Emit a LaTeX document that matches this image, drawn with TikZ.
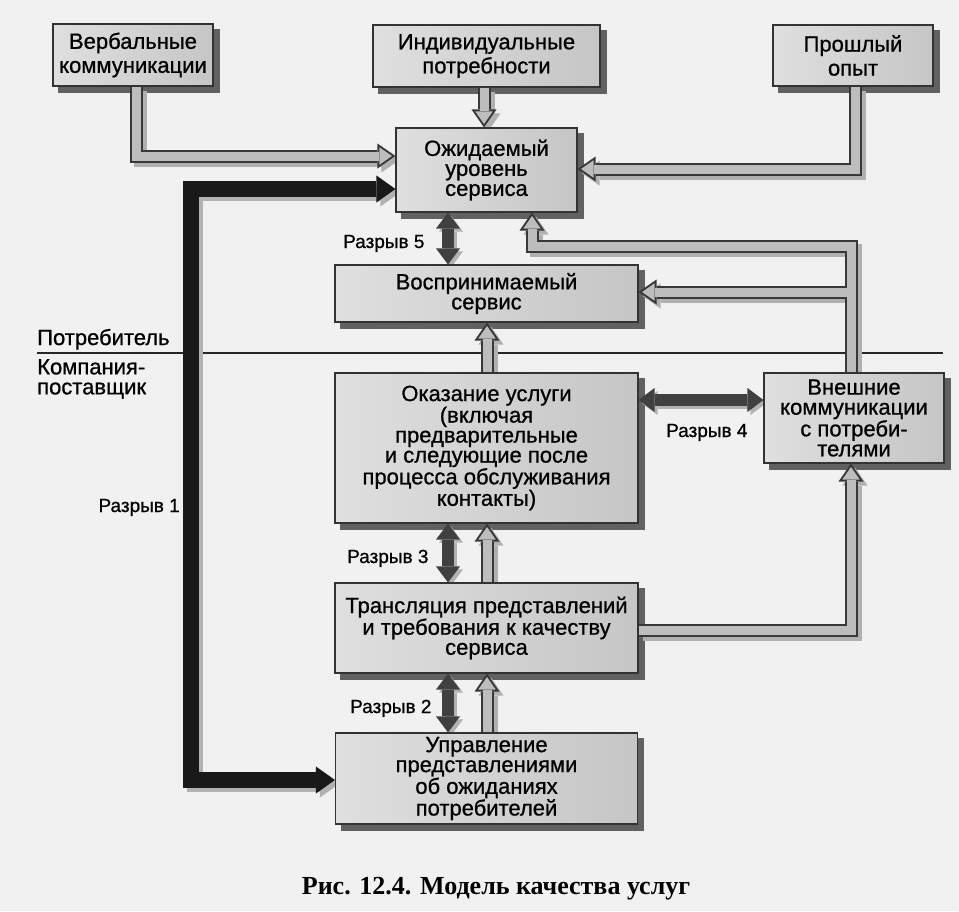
\documentclass[tikz,border=0pt]{standalone}
\usepackage{fontspec}
\setmainfont{Liberation Sans}
\newfontfamily\diafont{Liberation Sans}[FakeBold=0.8]
\newfontfamily\capfont{Liberation Serif}
\usetikzlibrary{arrows.meta,calc}
\pgfdeclarelayer{back}
\pgfdeclarelayer{ashadow}
\pgfdeclarelayer{aout}
\pgfdeclarelayer{ain}
\pgfsetlayers{back,ashadow,aout,ain,main}
\newcommand\myharrow[1]{%
  \begin{pgfonlayer}{ashadow}\draw[hshadow] #1;\end{pgfonlayer}%
  \begin{pgfonlayer}{aout}\draw[hout] #1;\end{pgfonlayer}%
  \begin{pgfonlayer}{ain}\draw[hin] #1;\end{pgfonlayer}}
\newcommand\mygap[2]{%
  \begin{pgfonlayer}{ashadow}\draw[#1shadow] #2;\end{pgfonlayer}%
  \begin{pgfonlayer}{ain}\draw[#1] #2;\end{pgfonlayer}}
\begin{document}
\begin{tikzpicture}[x=1pt,y=-1pt,
  box/.style={draw=black!80, line width=1.1pt, left color=gray!25, right color=gray!45,
    align=center, inner sep=0pt, text=black, font=\diafont\fontsize{22}{20}\selectfont},
  topbox/.style={box, font=\diafont\fontsize{22}{24}\selectfont},
  lbl/.style={inner sep=0pt, font=\diafont\fontsize{19}{19}\selectfont},
  side/.style={inner sep=0pt, font=\diafont\fontsize{22}{20}\selectfont, align=left},
  htip/.style={-{Triangle[length=18pt,width=25pt,line width=0pt]}},
  hshadow/.style={draw=gray!62, line width=13pt, line join=miter, htip,
    transform canvas={shift={(4pt,-4pt)}}},
  hout/.style={draw=black!78, line width=13pt, line join=miter, htip},
  hin/.style={draw=gray!52, line width=9pt, line join=miter, shorten >=3.5pt,
    -{Triangle[length=12.5pt,width=17.4pt,line width=0pt]}},
  gap/.style={draw=black!75, line width=12pt,
    {Triangle[length=16pt,width=24pt,line width=0pt]}-{Triangle[length=16pt,width=24pt,line width=0pt]}},
  gapshadow/.style={gap, draw=gray!60, transform canvas={shift={(3pt,-3pt)}}},
  big/.style={draw=black!90, line width=16pt, line join=miter,
    {Triangle[length=19pt,width=27pt,line width=0pt]}-{Triangle[length=19pt,width=27pt,line width=0pt]}},
  bigshadow/.style={big, draw=gray!60, transform canvas={shift={(4pt,-4pt)}}},
]
\useasboundingbox (0,0) rectangle (959,911);
\begin{pgfonlayer}{back}
  \fill[gray!11] (0,0) rectangle (959,911);
\end{pgfonlayer}

% boxes
\node[topbox, minimum width=160pt, minimum height=62pt] (verb) at (133,55) {Вербальные\\коммуникации};
\node[topbox, minimum width=227pt, minimum height=62pt] (indiv) at (486.5,56) {Индивидуальные\\потребности};
\node[topbox, minimum width=160pt, minimum height=61pt] (past) at (853,55.5) {Прошлый\\опыт};
\node[box, minimum width=181pt, minimum height=84pt] (expect) at (486.5,170) {Ожидаемый\\уровень\\сервиса};
\node[box, minimum width=303pt, minimum height=57pt] (perc) at (486.5,293.5) {Воспринимаемый\\сервис};
\node[box, minimum width=303pt, minimum height=150pt] (deliv) at (486.5,448) {Оказание услуги\\(включая\\предварительные\\и следующие после\\процесса обслуживания\\контакты)};
\node[box, minimum width=180pt, minimum height=90pt] (extcom) at (854,418) {Внешние\\коммуникации\\с потреби-\\телями};
\node[box, minimum width=303pt, minimum height=90pt] (trans) at (486.5,628) {Трансляция представлений\\и требования к качеству\\сервиса};
\node[box, minimum width=302pt, minimum height=91pt] (manage) at (486.5,778.5) {Управление\\представлениями\\об ожиданиях\\потребителей};

% box shadows and divider line
\begin{pgfonlayer}{back}
  \foreach \n in {verb,indiv,past,expect,perc,deliv,extcom,trans,manage}
    \fill[black!62] ([shift={(6pt,-6pt)}]\n.south west) rectangle ([shift={(6pt,-6pt)}]\n.north east);
  \coordinate (lineL) at (37,353);
  \coordinate (lineR) at (943,353);
  \draw[line width=1.6pt, black!85] (lineL) -- (lineR);
\end{pgfonlayer}

% hollow grey arrows
\myharrow{([xshift=3pt]verb.south) |- (expect.west |- 0,156)}
\myharrow{(indiv.south -| 484,0) -- (expect.north -| 484,0)}
\myharrow{(past.south -| 855,0) |- (expect.east |- 0,169)}
\myharrow{(extcom.north -| 851,0) -- (851,246) -- (532,246) -- (expect.south -| 532,0)}
\myharrow{(extcom.north -| 851,0) |- (perc.east |- 0,292)}
\myharrow{(trans.east |- 0,630) -| (extcom.south -| 851,0)}
\myharrow{(deliv.north -| 487,0) -- (perc.south -| 487,0)}
\myharrow{(trans.north -| 487,0) -- (deliv.south -| 487,0)}
\myharrow{(manage.north -| 487,0) -- (trans.south -| 487,0)}

% gaps
\mygap{gap}{(expect.south -| 448,0) -- (perc.north -| 448,0)}
\mygap{gap}{(deliv.south -| 448,0) -- (trans.north -| 448,0)}
\mygap{gap}{(trans.south -| 448,0) -- (manage.north -| 448,0)}
\mygap{gap}{(deliv.east |- 0,400) -- (extcom.west |- 0,400)}
\mygap{big}{(expect.west |- 0,189) -- (191,189) -- (191,780) -- (manage.west |- 0,780)}

% labels
\node[lbl, anchor=base west] (g5) at (343,248) {Разрыв 5};
\node[lbl, anchor=base east] (g1) at (180,512) {Разрыв 1};
\node[lbl, anchor=base west] (g3) at (347,563) {Разрыв 3};
\node[lbl, anchor=base west] (g2) at (350,713) {Разрыв 2};
\node[lbl, anchor=base west] (g4) at (666,437) {Разрыв 4};
\node[side, anchor=base west] (cons) at (37,345) {Потребитель};
\node[side, anchor=north west] (comp) at (37,359) {Компания-\\поставщик};
\node[inner sep=0pt, anchor=base, font=\capfont\bfseries\fontsize{26}{26}\selectfont] (cap) at (496,894) {Рис. 12.4. Модель качества услуг};
\end{tikzpicture}
\end{document}
